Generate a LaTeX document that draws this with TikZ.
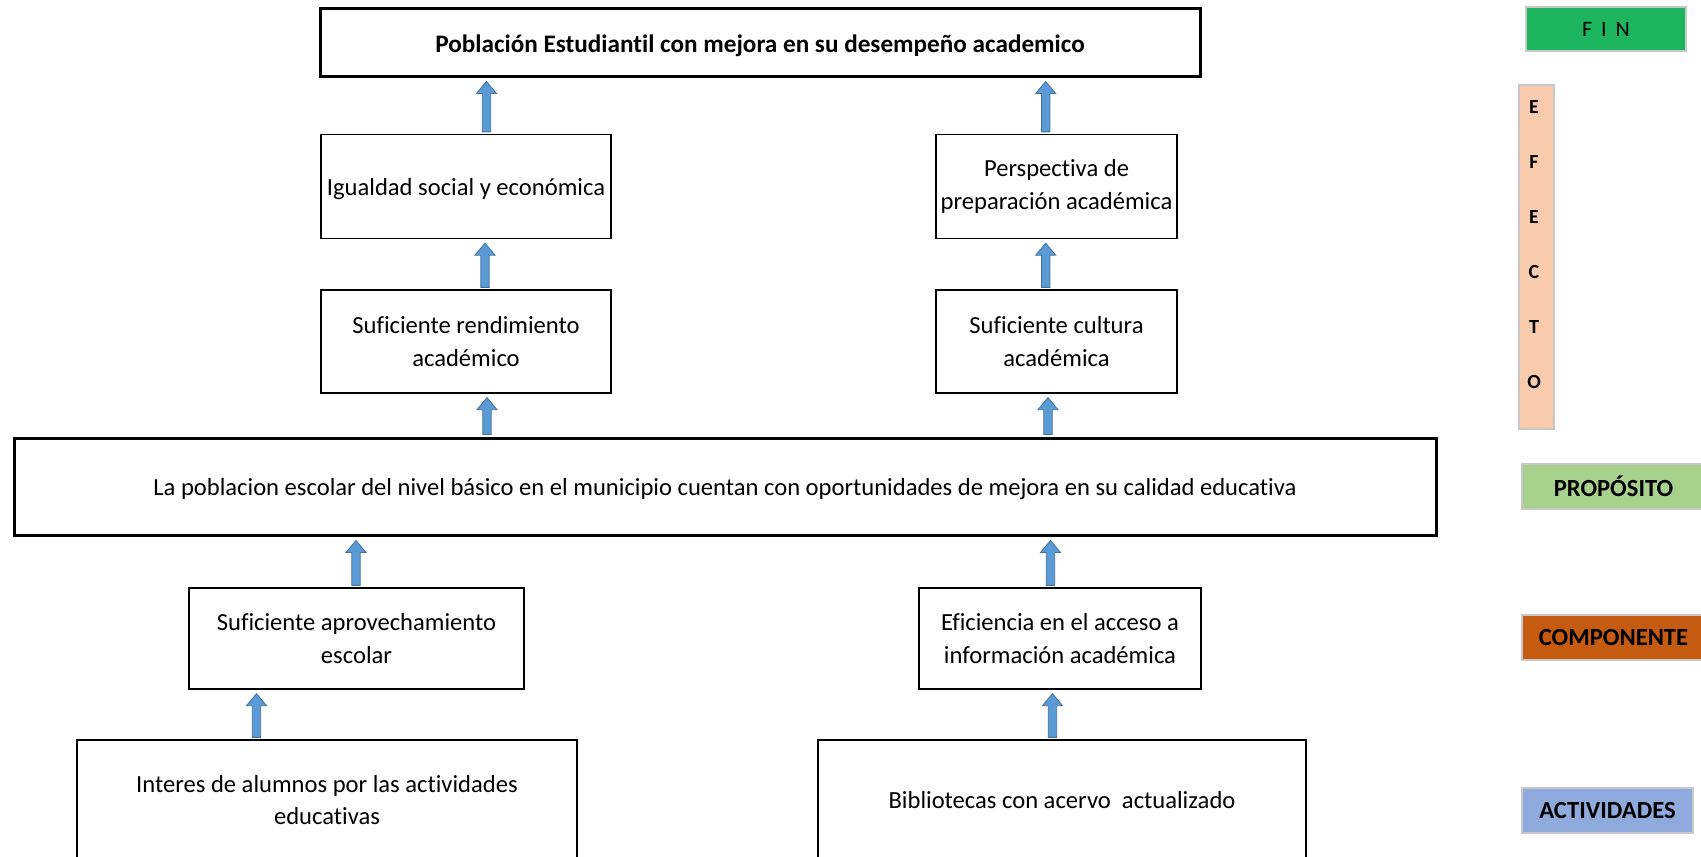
\documentclass[tikz,border=0pt]{standalone}
\usepackage{fontspec}
\setmainfont{Carlito}[Ligatures={NoCommon}]
\usetikzlibrary{calc}
\definecolor{finGreen}{HTML}{1DB65F}
\definecolor{efPeach}{HTML}{F8CBAD}
\definecolor{propGreen}{HTML}{A9D18E}
\definecolor{compOrange}{HTML}{C55A11}
\definecolor{actBlue}{HTML}{8FAADC}
\definecolor{labBorder}{HTML}{C8C8C8}
\definecolor{arrFill}{HTML}{5B9BD5}
\definecolor{arrLine}{HTML}{41719C}
\newcommand\blkarrow[3]{%
  \fill[arrFill, draw=arrLine, line width=0.8pt]
    let \p1=(#2.north -| #1), \p2=(#3.south -| #1) in
    (\x1-4.2pt,\y1+2pt) -- (\x1-4.2pt,\y2-16pt) -- (\x1-10pt,\y2-16pt) -- (\x1,\y2-4pt)
    -- (\x1+10pt,\y2-16pt) -- (\x1+4.2pt,\y2-16pt) -- (\x1+4.2pt,\y1+2pt) -- cycle;}
\begin{document}
\begin{tikzpicture}[x=1pt,y=-1pt,
  box/.style={draw=black, line width=1.3pt, fill=white, align=center, inner sep=0pt,
    font=\fontsize{24.6}{32.5}\selectfont, text=black},
  mainbox/.style={box, line width=3pt},
  lab/.style={draw=labBorder, line width=1.2pt, inner sep=0pt, align=center,
    font=\fontsize{24.6}{28}\selectfont\bfseries, text=black}]
\useasboundingbox (0,0) rectangle (1701,857);
\clip (0,0) rectangle (1701,857);

% main column boxes
\node[mainbox, minimum width=880, minimum height=68,
  font=\fontsize{25.2}{30}\selectfont\bfseries, text height=25pt, text depth=5pt] (fin) at (760,42)
  {Población Estudiantil con mejora en su desempeño academico};
\node[box, minimum width=290, minimum height=104, text height=23pt, text depth=5pt] (igual) at (466,186.5)
  {Igualdad social y económica};
\node[box, minimum width=241, minimum height=104] (persp) at (1056.5,186.5)
  {Perspectiva de\\preparación académica};
\node[box, minimum width=290, minimum height=103] (rend) at (466,341.5)
  {Suficiente rendimiento\\académico};
\node[box, minimum width=241, minimum height=103] (cult) at (1056.5,341.5)
  {Suficiente cultura\\académica};
\node[mainbox, minimum width=1422, minimum height=97, text height=23pt, text depth=5pt] (prop) at (725,486.5)
  {La poblacion escolar del nivel básico en el municipio cuentan con oportunidades de mejora en su calidad educativa};
\node[box, minimum width=335, minimum height=101] (aprov) at (356.5,638.5)
  {Suficiente aprovechamiento\\escolar};
\node[box, minimum width=282, minimum height=101] (efic) at (1060,638.5)
  {Eficiencia en el acceso a\\información académica};
\node[box, minimum width=500, minimum height=120] (inter) at (327,800)
  {Interes de alumnos por las actividades\\educativas};
\node[box, minimum width=488, minimum height=120] (biblio) at (1062,800)
  {Bibliotecas con acervo\ \ actualizado};

% arrow columns
\coordinate (a1) at (486.5,0);
\coordinate (a2) at (1045.7,0);
\coordinate (a3) at (485,0);
\coordinate (a4) at (1045.7,0);
\coordinate (a5) at (487,0);
\coordinate (a6) at (1048,0);
\coordinate (a7) at (356,0);
\coordinate (a8) at (1050.5,0);
\coordinate (a9) at (256.5,0);
\coordinate (a10) at (1052.5,0);

\blkarrow{a1}{igual}{fin}
\blkarrow{a2}{persp}{fin}
\blkarrow{a3}{rend}{igual}
\blkarrow{a4}{cult}{persp}
\blkarrow{a5}{prop}{rend}
\blkarrow{a6}{prop}{cult}
\blkarrow{a7}{aprov}{prop}
\blkarrow{a8}{efic}{prop}
\blkarrow{a9}{inter}{aprov}
\blkarrow{a10}{biblio}{efic}

% side labels
\node[lab, fill=finGreen, minimum width=160, minimum height=44,
  font=\fontsize{22}{26}\selectfont] (lfin) at (1606,29) {F\hspace{9pt}I\hspace{9pt}N};
\node[lab, fill=efPeach, minimum width=35, minimum height=344] (lefecto) at (1536.5,257) {};
\node[font=\fontsize{20}{55}\selectfont\bfseries, align=center, inner sep=0pt, text=black]
  (tefecto) at (1534,244.5) {E\\F\\E\\C\\T\\O};
\node[lab, fill=propGreen, minimum width=183, minimum height=45] (lprop) at (1613.5,486.5) {PROPÓSITO};
\node[lab, fill=compOrange, minimum width=183, minimum height=45] (lcomp) at (1613.5,637.5) {COMPONENTE};
\node[lab, fill=actBlue, minimum width=171, minimum height=45] (lact) at (1607.5,810.5) {ACTIVIDADES};
\end{tikzpicture}
\end{document}
